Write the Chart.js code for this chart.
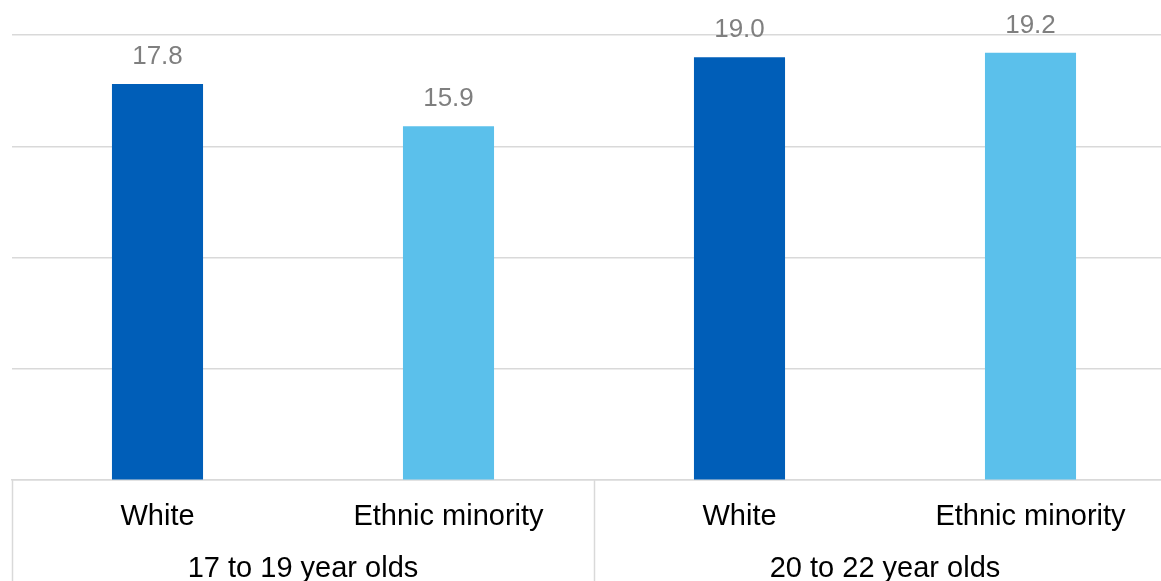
<!DOCTYPE html>
<html>
<head>
<meta charset="utf-8">
<script src="https://cdn.jsdelivr.net/npm/chart.js@4"></script>
<style>
  html, body { margin: 0; padding: 0; background: #fff; overflow: hidden; }
  #wrap { width: 1180px; height: 581px; }
</style>
</head>
<body>
<div id="wrap"><canvas id="chart"></canvas></div>
<script>
const groups = ["17 to 19 year olds", "20 to 22 year olds"];
const categories = ["White", "Ethnic minority", "White", "Ethnic minority"];
const values = [17.8, 15.9, 19.0, 19.2];
const bar_colors = ["#005EB8", "#5BC0EB", "#005EB8", "#5BC0EB"];
const y_max = 20;
const y_step = 5;

const line_color = "#d9d9d9";
const font_family = "'Liberation Sans', Arial, sans-serif";

// value above each bar
const valueLabels = {
    id: "valueLabels",
    afterDatasetsDraw(chart) {
        const ctx = chart.ctx;
        const meta = chart.getDatasetMeta(0);
        ctx.save();
        ctx.font = "26px " + font_family;
        ctx.fillStyle = "#7f7f7f";
        ctx.textAlign = "center";
        ctx.textBaseline = "middle";
        meta.data.forEach((bar, i) => {
            ctx.fillText(values[i].toFixed(1), bar.x, bar.y - 27);
        });
        ctx.restore();
    }
};

// boxes and group names under the category labels
const groupAxis = {
    id: "groupAxis",
    afterDraw(chart) {
        const ctx = chart.ctx;
        const x = chart.scales.x;
        const per = (x.right - x.left) / groups.length;
        ctx.save();
        ctx.strokeStyle = line_color;
        ctx.lineWidth = 1.5;
        for (let i = 0; i <= groups.length; i++) {
            const px = Math.round(x.left + i * per) + 0.5;
            ctx.beginPath();
            ctx.moveTo(px, x.top);
            ctx.lineTo(px, chart.height);
            ctx.stroke();
        }
        ctx.font = "29px " + font_family;
        ctx.fillStyle = "#000";
        ctx.textAlign = "center";
        ctx.textBaseline = "middle";
        groups.forEach((g, i) => {
            ctx.fillText(g, x.left + (i + 0.5) * per, x.bottom + 16);
        });
        ctx.restore();
    }
};

new Chart("chart", {
    type: "bar",
    data: {
        labels: categories,
        datasets: [{
            data: values,
            backgroundColor: bar_colors,
            barPercentage: 0.313,
            categoryPercentage: 1
        }]
    },
    plugins: [valueLabels, groupAxis],
    options: {
        responsive: true,
        maintainAspectRatio: false,
        animation: false,
        layout: {
            padding: { top: 35, left: 12, right: 4, bottom: 28 }
        },
        plugins: {
            legend: { display: false },
            tooltip: { enabled: false }
        },
        scales: {
            x: {
                grid: { display: false, drawTicks: false },
                border: { display: true, color: line_color, width: 1.5 },
                ticks: {
                    color: "#000",
                    padding: 19,
                    font: { size: 29, family: font_family }
                }
            },
            y: {
                min: 0,
                max: y_max,
                ticks: { display: false, stepSize: y_step },
                grid: { color: line_color, lineWidth: 1.5, drawTicks: false },
                border: { display: false }
            }
        }
    }
});
</script>
</body>
</html>
